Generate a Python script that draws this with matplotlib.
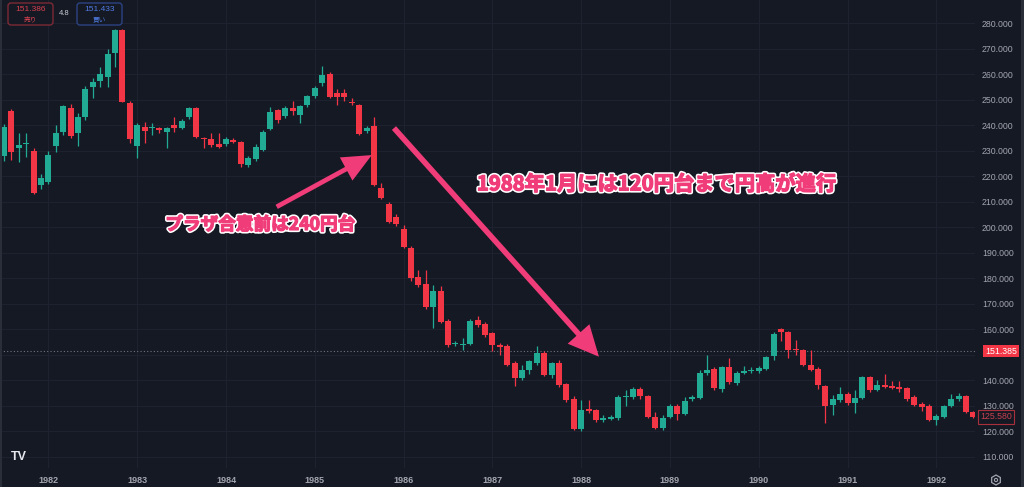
import matplotlib
matplotlib.use('Agg')
import matplotlib.pyplot as plt
import matplotlib.patheffects as pe
from matplotlib.transforms import blended_transform_factory
from matplotlib.patches import FancyBboxPatch, RegularPolygon, Circle, Rectangle
import numpy as np
import pandas as pd

plt.rcParams['font.family'] = ['Liberation Sans', 'Noto Sans CJK JP', 'DejaVu Sans']

BG = '#151924'
UP = '#22ab94'
DN = '#f23645'
GRID = '#1e2230'
TXT = '#a3a6af'
PINK = '#f03c78'
JP = ['Noto Sans CJK JP', 'DejaVu Sans']

# USD/JPY monthly candles, Jul 1981 - Jun 1992
months = pd.period_range('1981-07', periods=132, freq='M')
opens = [228.0, 245.7, 231.0, 232.6, 230.0, 216.5, 217.8, 231.8, 237.4, 246.6, 236.8, 243.3,
         255.0, 257.3, 259.0, 268.5, 277.3, 248.8, 231.8, 239.4, 239.0, 239.1, 237.4, 240.0,
         239.1, 243.3, 246.6, 235.0, 234.8, 232.6, 232.6, 234.4, 233.5, 224.4, 226.6, 230.3,
         238.4, 245.9, 243.6, 246.6, 244.2, 247.9, 251.5, 256.6, 260.3, 252.5, 252.7, 248.9,
         247.9, 237.6, 239.6, 215.3, 209.3, 204.1, 199.2, 191.8, 180.4, 177.8, 168.6, 174.8,
         163.3, 154.1, 153.8, 154.3, 163.7, 162.1, 158.5, 153.9, 153.5, 146.7, 140.8, 143.9,
         146.7, 150.6, 142.1, 146.9, 138.5, 132.6, 120.8, 128.7, 128.1, 124.5, 124.9, 125.1,
         133.3, 133.4, 136.5, 133.6, 125.6, 121.3, 125.6, 130.0, 126.8, 132.7, 133.0, 142.8,
         144.3, 136.5, 145.0, 138.9, 143.0, 143.4, 143.7, 144.3, 149.3, 160.0, 158.8, 152.1,
         151.9, 146.0, 144.5, 137.8, 130.4, 132.3, 134.7, 131.0, 133.0, 141.2, 136.2, 138.2,
         137.8, 137.3, 136.9, 133.2, 130.8, 130.0, 124.5, 125.6, 129.8, 132.6, 133.6, 127.4]
highs = [240.5, 246.5, 236.8, 236.8, 231.0, 221.0, 230.0, 240.0, 248.0, 248.5, 245.0, 255.5,
         258.5, 263.0, 270.0, 277.8, 277.8, 249.5, 241.0, 241.3, 240.7, 239.4, 239.3, 243.3,
         242.5, 247.3, 247.0, 235.2, 236.8, 236.8, 235.3, 235.0, 234.0, 228.0, 232.5, 238.0,
         247.0, 246.5, 247.5, 249.7, 248.0, 252.0, 255.5, 263.2, 261.0, 254.4, 254.4, 250.5,
         248.3, 239.8, 243.3, 217.2, 210.0, 205.0, 200.9, 192.5, 183.3, 183.3, 177.5, 176.8,
         164.0, 155.5, 156.5, 164.0, 165.0, 162.8, 159.0, 154.5, 154.0, 147.5, 146.0, 148.0,
         153.5, 151.5, 147.2, 148.0, 139.0, 133.6, 132.3, 132.3, 128.6, 126.5, 126.3, 134.0,
         136.2, 137.2, 137.3, 134.2, 127.5, 126.5, 130.8, 130.6, 133.5, 134.3, 143.8, 149.9,
         145.0, 145.6, 148.6, 143.5, 145.5, 145.2, 145.5, 149.5, 158.8, 160.4, 159.2, 155.6,
         152.3, 151.9, 145.0, 138.2, 134.0, 137.3, 135.2, 136.0, 141.8, 141.6, 140.2, 142.5,
         139.5, 139.8, 137.4, 134.0, 131.5, 130.5, 126.8, 130.2, 134.6, 135.0, 134.0, 127.8]
lows = [226.0, 226.3, 225.7, 227.6, 213.0, 215.0, 217.0, 229.5, 236.0, 235.0, 232.0, 242.0,
        250.5, 255.2, 255.0, 262.9, 249.0, 232.9, 227.0, 232.9, 236.1, 236.8, 231.2, 237.4,
        238.5, 242.5, 235.0, 230.9, 231.5, 231.2, 231.8, 233.0, 223.7, 223.7, 226.0, 229.8,
        238.0, 241.0, 243.0, 244.2, 240.7, 247.0, 250.5, 255.5, 250.5, 247.9, 249.5, 247.9,
        236.0, 237.0, 216.0, 211.0, 201.5, 200.5, 192.0, 179.0, 176.5, 168.0, 160.4, 162.5,
        153.0, 153.5, 151.9, 153.8, 161.0, 157.0, 151.5, 150.0, 145.5, 137.6, 140.0, 142.5,
        146.0, 141.5, 141.0, 137.5, 131.5, 120.3, 120.0, 127.1, 123.5, 123.4, 124.3, 124.5,
        130.0, 132.8, 132.5, 125.0, 120.8, 120.5, 125.0, 124.5, 126.2, 131.7, 132.5, 142.0,
        136.3, 135.5, 138.5, 138.0, 142.3, 142.8, 142.9, 143.8, 148.0, 155.5, 148.7, 149.9,
        145.5, 143.5, 136.5, 123.3, 126.5, 131.5, 130.3, 127.1, 132.5, 135.2, 135.8, 136.8,
        136.4, 135.2, 132.0, 130.0, 128.0, 124.0, 122.5, 125.2, 129.3, 132.0, 127.0, 125.2]
closes = [239.3, 229.6, 232.2, 233.0, 213.5, 219.4, 228.3, 236.8, 247.5, 235.9, 243.1, 254.4,
          257.0, 260.3, 268.1, 277.3, 249.2, 234.8, 240.0, 237.7, 239.3, 238.1, 239.0, 239.1,
          241.7, 246.6, 235.5, 234.7, 232.2, 231.6, 234.8, 233.5, 224.8, 227.0, 231.6, 237.4,
          245.3, 242.0, 246.8, 245.7, 247.5, 251.4, 254.8, 259.6, 250.9, 251.2, 251.2, 248.7,
          236.5, 239.1, 216.5, 211.3, 202.2, 201.2, 192.4, 180.0, 177.4, 168.6, 174.8, 163.0,
          153.6, 154.5, 154.1, 163.3, 161.7, 157.8, 153.6, 153.2, 146.0, 140.8, 144.1, 147.4,
          150.6, 142.1, 146.7, 138.2, 132.3, 120.8, 128.1, 128.0, 124.2, 125.1, 125.6, 133.4,
          133.5, 136.5, 133.6, 125.6, 121.3, 125.1, 130.0, 126.8, 131.7, 133.2, 143.0, 144.0,
          136.9, 145.0, 139.1, 142.8, 143.7, 144.0, 144.7, 148.9, 158.2, 158.7, 151.9, 151.8,
          146.0, 144.1, 138.2, 130.0, 132.6, 134.7, 131.0, 133.0, 141.2, 136.2, 138.2, 137.3,
          136.9, 136.5, 132.6, 130.4, 129.5, 124.5, 126.1, 129.8, 132.6, 133.6, 127.4, 125.58]

last_price = 151.385
sell_price, buy_price, spread = '151.386', '151.433', '4.8'

note1 = 'プラザ合意前は240円台'
note2 = '1988年1月には120円台まで円高が進行'


def DrawCandles(ax):
    o = np.array(opens)
    c = np.array(closes)
    x = np.arange(len(o))
    cols = [UP if cc >= oo else DN for oo, cc in zip(o, c)]
    ax.vlines(x, lows, highs, colors=cols, lw=0.9, zorder=3)
    bottom = np.minimum(o, c)
    height = np.maximum(np.abs(c - o), 0.45)
    ax.bar(x, height, 0.8, bottom=bottom, color=cols, lw=0, zorder=4)


fig = plt.figure(figsize=(10.24, 4.87), dpi=100, facecolor=BG)
ax = fig.add_axes([0, 19 / 487, 975 / 1024, 468 / 487], facecolor=BG)

DrawCandles(ax)
ax.set_xlim(-0.54, 131.22)
ax.set_ylim(105.54, 289.14)

## price axis on the right
yticks = np.arange(110, 290, 10)
ax.set_yticks(yticks)
ax.set_yticklabels(['' if v == 150 else '%.3f' % v for v in yticks])
ax.yaxis.tick_right()
ax.tick_params(axis='y', length=0, pad=5, labelsize=6.3, labelcolor=TXT)

## years on the time axis
jan = [i for i, m in enumerate(months) if m.month == 1]
ax.set_xticks(jan)
ax.set_xticklabels([str(months[i].year) for i in jan], fontweight='bold')
ax.tick_params(axis='x', length=0, pad=6, labelsize=6.5, labelcolor=TXT)

ax.grid(True, color=GRID, lw=0.8)
ax.set_axisbelow(True)
for s in ax.spines.values():
    s.set_visible(False)

## last price line and labels
ax.axhline(last_price, color='#6f7380', lw=0.8, ls=(0, (1, 2)), zorder=2)
tr = blended_transform_factory(ax.transAxes, ax.transData)
ax.text(1.0265, last_price, '%.3f' % last_price, transform=tr, ha='center', va='center',
        fontsize=6.3, color='white', clip_on=False,
        bbox=dict(boxstyle='square,pad=0.2', fc=DN, ec='none'))
ax.text(1.0215, closes[-1], '%.3f' % closes[-1], transform=tr, ha='center', va='center',
        fontsize=6.3, color='#c8404f', clip_on=False,
        bbox=dict(boxstyle='square,pad=0.25', fc=BG, ec='#a8303c', lw=0.8))

## annotations
stroke = [pe.withStroke(linewidth=3.2, foreground='white'),
          pe.Stroke(linewidth=0.9, foreground=PINK), pe.Normal()]
ax.text(21.8, 200.9, note1, family=JP, fontweight='bold', fontsize=12.7, color=PINK,
        ha='left', va='center', path_effects=stroke, zorder=6)
ax.text(63.9, 217.0, note2, family=JP, fontweight='bold', fontsize=14.6, color=PINK,
        ha='left', va='center', path_effects=stroke, zorder=6)

ax.annotate('', xy=(49.7, 228.3), xytext=(36.85, 208.0),
            arrowprops=dict(arrowstyle='simple,head_length=1.05,head_width=0.95,tail_width=0.17',
                            mutation_scale=20, fc=PINK, ec='none', shrinkA=0, shrinkB=0), zorder=6)
ax.annotate('', xy=(80.4, 149.2), xytext=(52.7, 238.9),
            arrowprops=dict(arrowstyle='simple,head_length=1.1,head_width=1.05,tail_width=0.2',
                            mutation_scale=20, fc=PINK, ec='none', shrinkA=0, shrinkB=0), zorder=6)

## screen decorations (pixel coordinates)
ov = fig.add_axes([0, 0, 1, 1])
ov.set_xlim(0, 1024)
ov.set_ylim(487, 0)
ov.axis('off')
ov.patch.set_alpha(0)

ov.add_patch(FancyBboxPatch((8, 3), 45, 22, boxstyle='round,pad=0,rounding_size=3',
                            fc=BG, ec='#7c2a35', lw=1))
ov.text(30.5, 9.5, sell_price, ha='center', va='center', fontsize=6, color='#d7404f')
ov.text(30.5, 19.5, '売り', family=JP, ha='center', va='center', fontsize=4.8, color='#d7404f')
ov.text(64.5, 13.5, spread, ha='center', va='center', fontsize=5.5, color='#c9ccd3')
ov.add_patch(FancyBboxPatch((77, 3), 45, 22, boxstyle='round,pad=0,rounding_size=3',
                            fc=BG, ec='#2c4383', lw=1))
ov.text(99.5, 9.5, buy_price, ha='center', va='center', fontsize=6, color='#4f7be3')
ov.text(99.5, 19.5, '買い', family=JP, ha='center', va='center', fontsize=4.8, color='#4f7be3')

ov.text(19, 457, 'TV', ha='center', va='center', fontsize=9, fontweight='bold', color='#e6e8ee')
ov.add_patch(RegularPolygon((996, 480), 6, radius=5, fill=False, ec=TXT, lw=0.9))
ov.add_patch(Circle((996, 480), 1.6, fill=False, ec=TXT, lw=0.8))
ov.add_patch(Rectangle((0, 0), 2, 487, fc='#2a2e39', ec='none'))
ov.add_patch(Rectangle((1021, 0), 3, 487, fc='#2a2e39', ec='none'))

fig.savefig('out.png', dpi=100, facecolor=BG)
